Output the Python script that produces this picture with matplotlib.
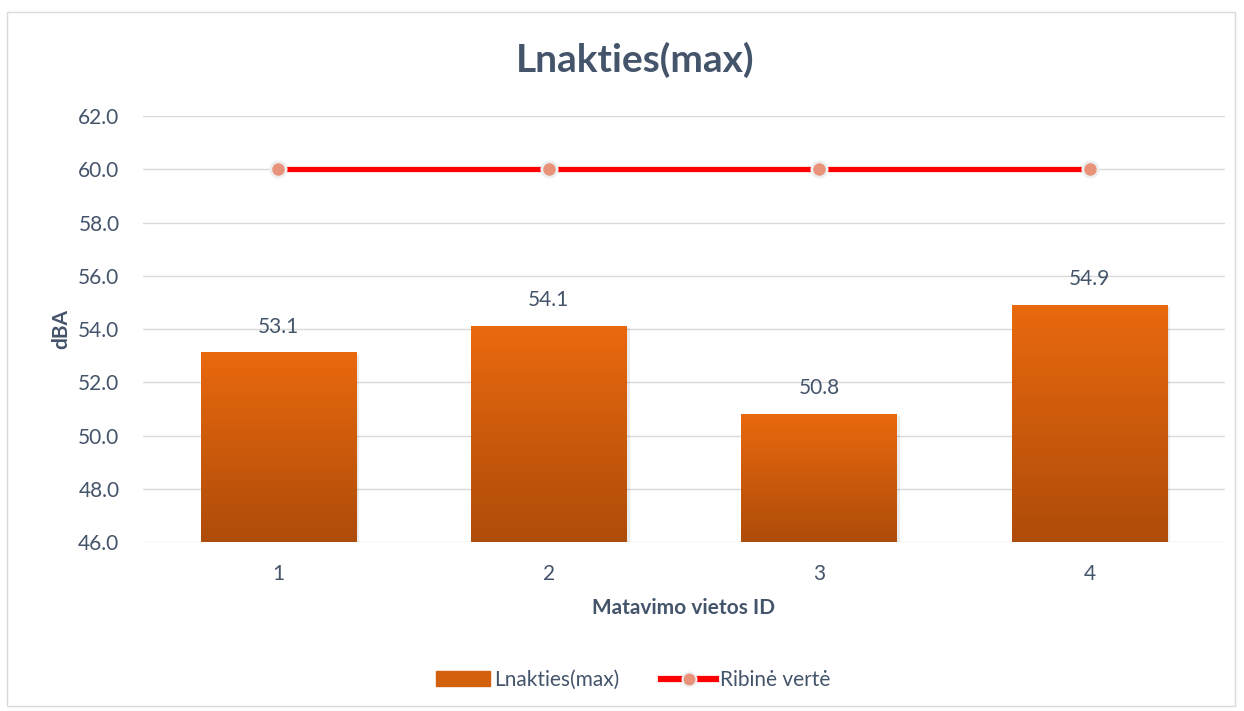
import numpy as np
import matplotlib
matplotlib.use("Agg")
from matplotlib import pyplot as plt
from matplotlib.patches import Rectangle
from matplotlib.lines import Line2D

# data
categories = [1, 2, 3, 4]
values = [53.1, 54.1, 50.8, 54.9]
limit_vals = [60.0, 60.0, 60.0, 60.0]
yticks = [46, 48, 50, 52, 54, 56, 58, 60, 62]

txt = "#44546A"
plt.rcParams['font.family'] = ['Lato', 'DejaVu Sans']

fig = plt.figure(figsize=(12.44, 7.11), dpi=100)
ax = fig.add_axes([0.115, 0.2377, 0.8695, 0.5991])

# outer chart border
fig.patches.append(Rectangle((7/1244, 1 - 706/711), 1228/1244, 694/711,
                             transform=fig.transFigure, fill=False,
                             edgecolor="#D9D9D9", lw=1))

# gradient bars
grad = np.linspace(0, 1, 256).reshape(-1, 1)
cmap = matplotlib.colors.LinearSegmentedColormap.from_list("o", ["#AE4C09", "#E9690E"])
w = 0.575
for x, v in zip(categories, values):
    ax.add_patch(Rectangle((x - w/2 + 0.012, 46 - 0.08), w, v - 46, color="#000000",
                           alpha=0.08, lw=0, zorder=2))
    ax.imshow(grad, cmap=cmap, extent=(x - w/2, x + w/2, 46, v), origin="lower",
              aspect="auto", zorder=3)
    ax.text(x, v + 0.6, f"{v:.1f}", ha="center", va="bottom", fontsize=15, color=txt)

ax.set_xlim(0.5, 4.5)
ax.set_ylim(46, 62)

# limit line
ax.plot(categories, limit_vals, color="#FF0000", lw=3.8, zorder=4, solid_capstyle="butt")
ax.plot(categories, limit_vals, ls="none", marker="o", ms=11, mfc="#E8927A",
        mec="#EEEEEE", mew=2, zorder=5)

ax.set_yticks(yticks)
ax.set_yticklabels([f"{t:.1f}" for t in yticks])
ax.set_xticks(categories)
ax.set_xticklabels([str(c) for c in categories])
ax.grid(axis="y", color="#D9D9D9", lw=1)
ax.set_axisbelow(True)
for s in ax.spines.values():
    s.set_visible(False)
ax.tick_params(length=0, labelsize=15, labelcolor=txt)
ax.tick_params(axis="x", pad=16)
ax.tick_params(axis="y", pad=17)

ax.set_xlabel("Matavimo vietos ID", fontsize=15, fontweight="bold", color=txt, labelpad=10)
ax.set_ylabel("dBA", fontsize=15, fontweight="bold", color=txt, labelpad=5)
fig.text(0.511, 1 - 60/711, "Lnakties(max)", ha="center", va="center", fontsize=28,
         fontweight="bold", color=txt)

# legend
h1 = Rectangle((0, 0), 1, 1, color="#D2600C")
h2 = Line2D([], [], color="#FF0000", lw=4.5, marker="o", ms=10, mfc="#E8927A", mec="#EEEEEE", mew=1.5)
fig.legend([h1, h2], ["Lnakties(max)", "Ribinė vertė"], loc="center",
           bbox_to_anchor=(0.509, 1 - 680/711), ncol=2, frameon=False, fontsize=15,
           labelcolor=txt, handlelength=2.6, handletextpad=0.2, columnspacing=2.0)

fig.savefig("out.png", dpi=100)
